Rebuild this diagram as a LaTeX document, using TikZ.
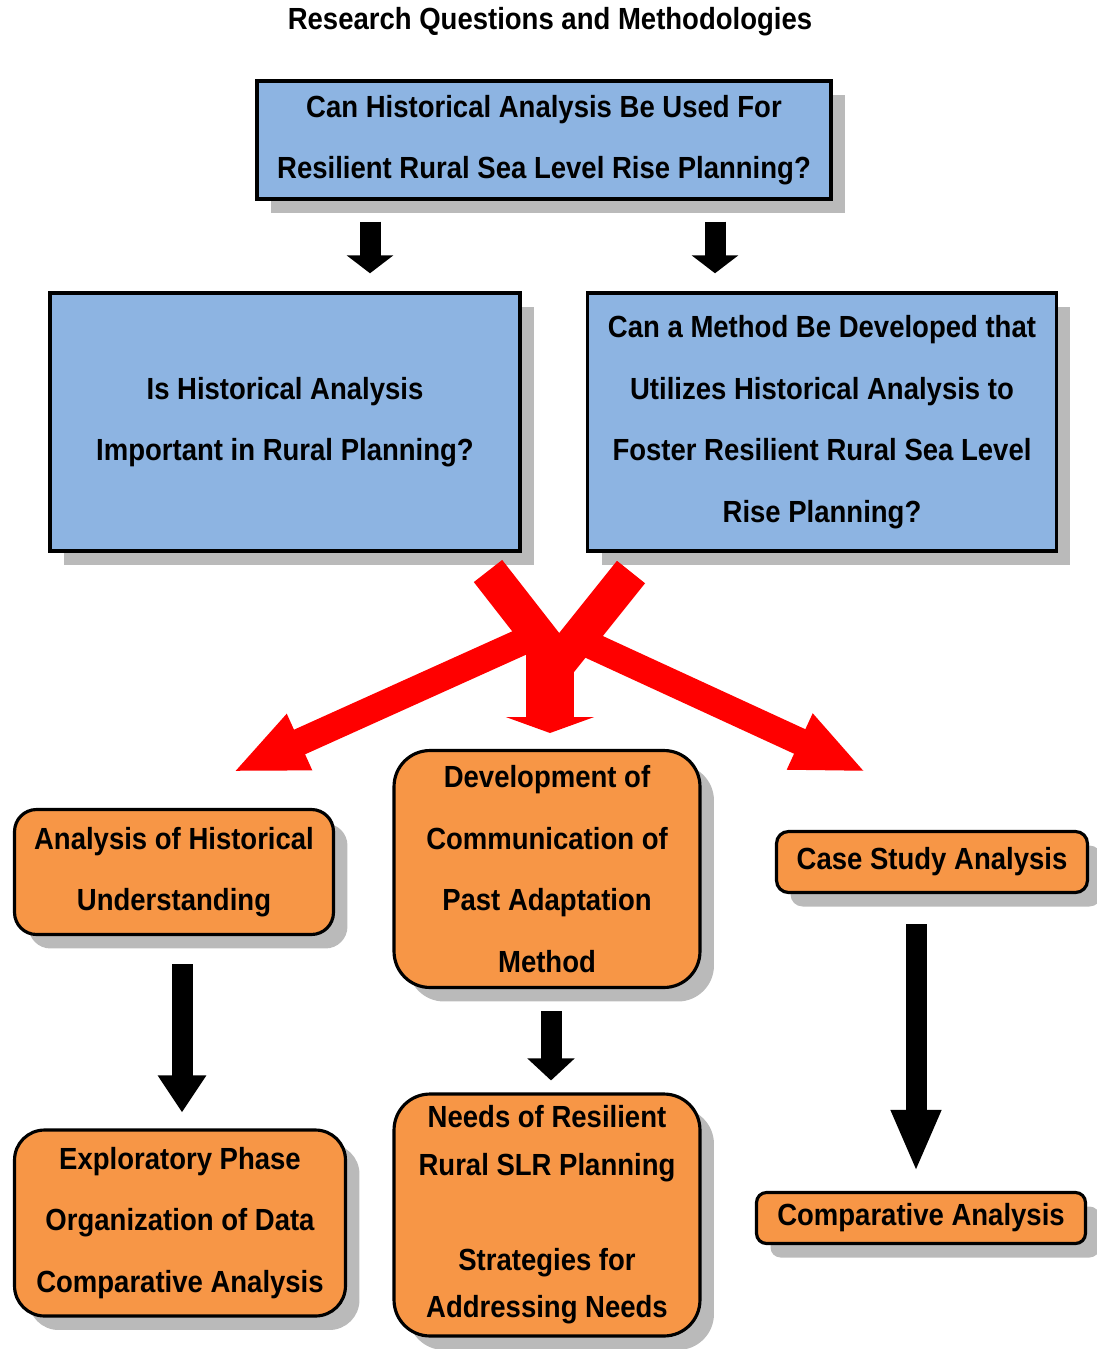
\documentclass[tikz,border=0pt]{standalone}
\usepackage{fontspec}
\setmainfont{Liberation Sans}[FakeStretch=0.9]
\usepackage{tikz}
\usetikzlibrary{%
  arrows.meta,
  shadows
}

\definecolor{qblue}{RGB}{141,180,226}
\definecolor{morange}{RGB}{247,150,70}
\definecolor{shade}{RGB}{186,186,186}

\tikzset{
    txt/.style      = {font=\fontsize{17.4}{35}\selectfont\bfseries},
    boxshadow/.style = {drop shadow={shadow xshift=0.28cm, shadow yshift=-0.28cm, fill=shade, opacity=1}},
    question/.style = {txt, draw, line width=2pt, fill=qblue, boxshadow, align=center, inner sep=0pt},
    method/.style   = {txt, draw, line width=1.8pt, fill=morange, boxshadow, align=center, inner sep=0pt, rounded corners=#1},
    method/.default = 0.44cm,
    blkarrow/.style = {line width=0.42cm, -{Triangle[length=#1, width=0.92cm]}},
    redarm/.style   = {red, line width=#1},
}

\begin{document}
\begin{tikzpicture}[x=0.02cm, y=-0.02cm]
    \useasboundingbox (0,0) rectangle (1096,1349);

    \node[txt] (title) at (550,22) {Research Questions and Methodologies};

    \node[question, minimum width=11.48cm, minimum height=2.36cm] (top) at (544,140)
        {Can Historical Analysis Be Used For\\Resilient Rural Sea Level Rise Planning?};
    \node[question, minimum width=9.4cm, minimum height=5.16cm] (q1) at (285,422)
        {Is Historical Analysis\\Important in Rural Planning?};
    \node[question, minimum width=9.38cm, minimum height=5.16cm] (q2) at (822,422)
        {Can a Method Be Developed that\\Utilizes Historical Analysis to\\Foster Resilient Rural Sea Level\\Rise Planning?};

    \node[method=0.44cm, minimum width=6.38cm, minimum height=2.5cm] (hist) at (174,872)
        {Analysis of Historical\\Understanding};
    \node[method=0.72cm, minimum width=6.12cm, minimum height=4.74cm] (dev) at (547,869)
        {Development of\\Communication of\\Past Adaptation\\Method};
    \node[method=0.24cm, minimum width=6.22cm, minimum height=1.22cm] (case) at (932,862)
        {Case Study Analysis};
    \node[method=0.6cm, minimum width=6.62cm, minimum height=3.72cm] (expl) at (180,1223)
        {Exploratory Phase\\Organization of Data\\Comparative Analysis};
    \node[method=0.72cm, minimum width=6.12cm, minimum height=4.84cm,
          font=\fontsize{17.4}{27}\selectfont\bfseries] (needs) at (547,1215)
        {Needs of Resilient\\Rural SLR Planning\\[27pt]Strategies for\\Addressing Needs};
    \node[method=0.2cm, minimum width=6.58cm, minimum height=1.02cm] (comp) at (921,1218)
        {Comparative Analysis};

    \coordinate (xl) at (370,0);
    \coordinate (xr) at (715,0);
    \coordinate (xa) at (182,0);
    \coordinate (xb) at (551,0);
    \coordinate (xc) at (916,0);

    \draw[blkarrow=0.36cm, shorten <=0.42cm, shorten >=0.36cm] (top.south -| xl) -- (q1.north -| xl);
    \draw[blkarrow=0.36cm, shorten <=0.42cm, shorten >=0.36cm] (top.south -| xr) -- (q2.north -| xr);
    \draw[blkarrow=0.74cm, shorten <=0.56cm, shorten >=0.32cm] (hist.south -| xa) -- (expl.north -| xa);
    \draw[blkarrow=0.44cm, shorten <=0.44cm, shorten >=0.24cm] (dev.south -| xb) -- (needs.north -| xb);
    \draw[blkarrow=1.24cm, shorten <=0.6cm, shorten >=0.38cm] (case.south -| xc) -- (comp.north -| xc);

    % the red cross between the two rows
    \coordinate (ul) at (488,571);
    \coordinate (ur) at (631,572);
    \coordinate (cross) at (559,662);
    \coordinate (sl) at (548,630);
    \coordinate (sr) at (564,633);
    \coordinate (tl) at (233,772);
    \coordinate (tr) at (866,772);
    \coordinate (sd) at (550,645);
    \coordinate (td) at (550,733);

    \draw[redarm=0.72cm] (ul) -- (cross);
    \draw[redarm=0.72cm] (ur) -- (cross);
    \draw[redarm=0.54cm, -{Triangle[length=1.46cm, width=1.12cm]}] (sl) -- (tl);
    \draw[redarm=0.54cm, -{Triangle[length=1.46cm, width=1.12cm]}] (sr) -- (tr);
    \draw[redarm=0.96cm, -{Triangle[length=0.32cm, width=1.76cm]}] (sd) -- (td);
\end{tikzpicture}
\end{document}
